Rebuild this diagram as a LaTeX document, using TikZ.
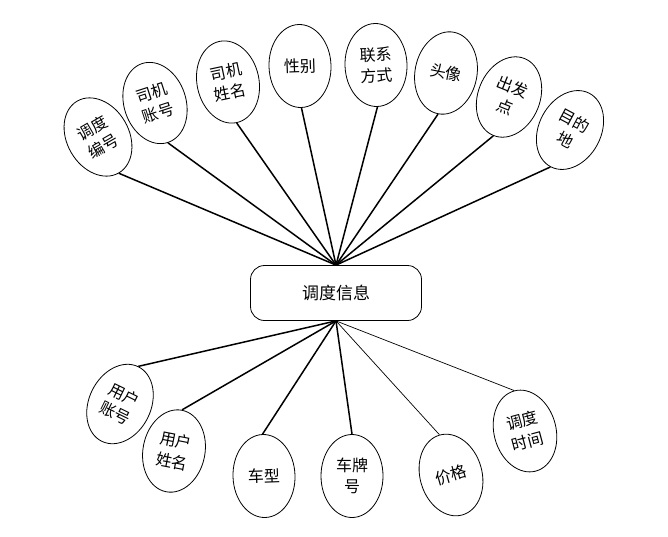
\documentclass[tikz,border=0pt]{standalone}
\usepackage{fontspec}
\newfontfamily\cjkfont{Noto Sans CJK SC}
\usepackage{tikz}
\usetikzlibrary{shapes.geometric}

\begin{document}
\begin{tikzpicture}[x=1pt, y=-1pt,
  attr/.style={ellipse, draw=black, line width=0.8pt, fill=white,
               minimum width=62pt, minimum height=83pt, inner sep=0pt,
               align=center, font=\cjkfont\fontsize{16}{21}\selectfont},
  entity/.style={rectangle, rounded corners=14pt, draw=black, line width=0.8pt,
                 minimum width=171pt, minimum height=55pt,
                 align=center, font=\cjkfont\fontsize{17}{20}\selectfont},
  link/.style={line width=1.5pt},
  thinlink/.style={line width=0.7pt},
]
  \useasboundingbox (0,0) rectangle (668,536);

  % central entity
  \node[entity] (info) at (336,293) {调度信息};

  % upper attributes
  \node[attr, rotate=30]  (ddbh) at (98,137)  {调度\\编号};
  \node[attr, rotate=18]  (sjzh) at (155,103) {司机\\账号};
  \node[attr, rotate=12]  (sjxm) at (228,82)  {司机\\姓名};
  \node[attr, rotate=2]   (xb)   at (300,66)  {性别};
  \node[attr, rotate=2]   (lxfs) at (376,65)  {联系\\方式};
  \node[attr, rotate=-11] (tx)   at (446,73)  {头像};
  \node[attr, rotate=-22] (cfd)  at (509,97)  {出发\\点};
  \node[attr, rotate=-28] (mdd)  at (570,130) {目的\\地};

  % lower attributes
  \node[attr, rotate=-26] (yhzh) at (120,404) {用户\\账号};
  \node[attr, rotate=-11] (yhxm) at (174,451) {用户\\姓名};
  \node[attr, rotate=2]   (cx)   at (264,476) {车型};
  \node[attr]             (cph)  at (352,476) {车牌\\号};
  \node[attr, rotate=16]  (jg)   at (451,475) {价格};
  \node[attr, rotate=15]  (ddsj) at (525,431) {调度\\时间};

  \foreach \a in {ddbh, sjzh, sjxm, xb, lxfs, tx, cfd, mdd}
    \draw[link] (\a.south) -- (info.north);
  \foreach \a in {yhzh, yhxm, cx, cph}
    \draw[link] (\a.north) -- (info.south);
  \draw[thinlink] (jg.north) -- (info.south);
  \draw[thinlink] (ddsj.north) -- (info.south);
\end{tikzpicture}
\end{document}
